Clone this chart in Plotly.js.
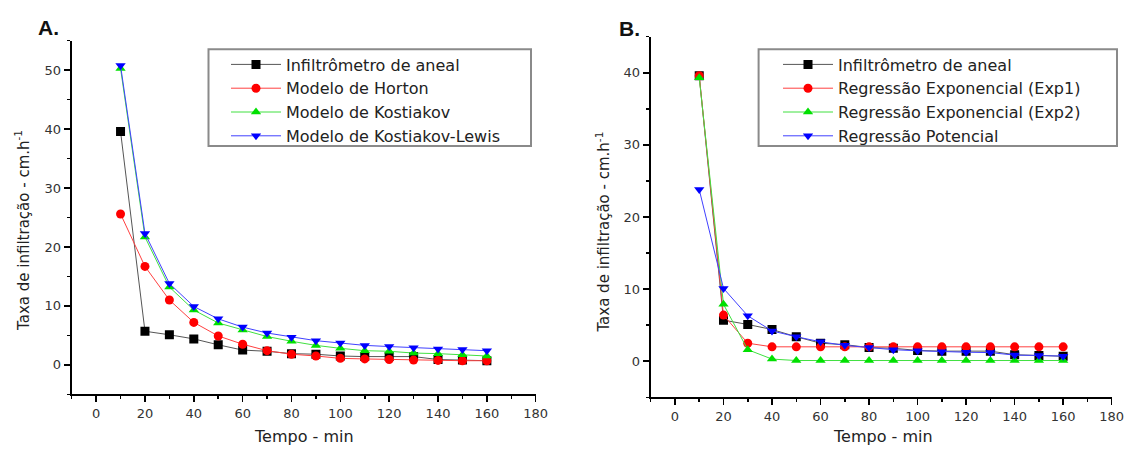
<!DOCTYPE html>
<html>
<head>
<meta charset="utf-8">
<script src="https://cdn.plot.ly/plotly-3.0.1.min.js"></script>
<style>html,body{margin:0;padding:0;background:#fff;}#chart{width:1124px;height:450px;}</style>
</head>
<body>
<div id="chart"></div>
<script>
// ---- data ----
const tempoMin = [10, 20, 30, 40, 50, 60, 70, 80, 90, 100, 110, 120, 130, 140, 150, 160];

// Panel A
const infiltrometro = [39.6, 5.7, 5.1, 4.4, 3.4, 2.5, 2.3, 1.9, 1.8, 1.5, 1.4, 1.4, 1.4, 0.9, 0.8, 0.7];
const horton = [25.6, 16.7, 11.0, 7.2, 4.9, 3.5, 2.4, 1.8, 1.5, 1.1, 1.0, 0.9, 0.8, 0.75, 0.7, 0.7];
const kostiakov = [50.3, 21.7, 13.2, 9.3, 7.1, 5.9, 4.8, 4.0, 3.3, 2.8, 2.4, 2.3, 2.0, 1.9, 1.7, 1.5];
const kostiakovLewis = [50.8, 22.3, 13.8, 9.9, 7.8, 6.4, 5.4, 4.7, 4.1, 3.7, 3.3, 3.1, 2.9, 2.7, 2.6, 2.4];

// Panel B
const exp1 = [39.6, 6.4, 2.5, 2.0, 2.0, 2.0, 2.0, 2.0, 2.0, 2.0, 2.0, 2.0, 2.0, 2.0, 2.0, 2.0];
const exp2 = [39.3, 7.9, 1.6, 0.3, 0.1, 0.1, 0.1, 0.1, 0.1, 0.1, 0.1, 0.1, 0.1, 0.1, 0.1, 0.1];
const potencial = [23.8, 10.1, 6.3, 4.2, 3.4, 2.7, 2.2, 1.9, 1.6, 1.45, 1.3, 1.25, 1.2, 0.85, 0.8, 0.7];

const namesA = ["Infiltrômetro de aneal", "Modelo de Horton", "Modelo de Kostiakov", "Modelo de Kostiakov-Lewis"];
const namesB = ["Infiltrômetro de aneal", "Regressão Exponencial (Exp1)", "Regressão Exponencial (Exp2)", "Regressão Potencial"];
const xTitle = "Tempo - min";
const yTitle = "Taxa de infiltração - cm.h<sup>-1</sup>";
const panelLabels = ["A.", "B."];

// ---- styles ----
const FONT = "DejaVu Sans, Verdana, sans-serif";
const styles = [
  {color: "#000000", line: "#555555", symbol: "square"},
  {color: "#ff0000", line: "#ff4040", symbol: "circle"},
  {color: "#00e000", line: "#40e040", symbol: "triangle-up"},
  {color: "#0000ff", line: "#4040ff", symbol: "triangle-down"}
];

function mk(y, name, st, xa, ya, leg) {
  return {
    x: tempoMin, y: y, name: name, type: "scatter", mode: "lines+markers",
    xaxis: xa, yaxis: ya, legend: leg,
    line: {color: st.line, width: 1},
    marker: {color: st.color, symbol: st.symbol, size: 9}
  };
}

const seriesA = [infiltrometro, horton, kostiakov, kostiakovLewis];
const seriesB = [infiltrometro, exp1, exp2, potencial];
const traces = [];
seriesA.forEach((s, i) => traces.push(mk(s, namesA[i], styles[i], "x", "y", "legend")));
seriesB.forEach((s, i) => traces.push(mk(s, namesB[i], styles[i], "x2", "y2", "legend2")));

const W = 1124, H = 450;
const px = v => v / W, py = v => 1 - v / H;

function xax(dom, anchor) {
  return {
    domain: dom, anchor: anchor, range: [-10, 180], dtick: 20, tick0: 0,
    showline: true, linecolor: "#000", linewidth: 2, showgrid: false, zeroline: false,
    ticks: "outside", ticklen: 6, tickwidth: 1.5, tickcolor: "#000", ticklabeloverflow: "allow",
    minor: {dtick: 10, tick0: 0, ticks: "outside", ticklen: 3, tickwidth: 1.5, tickcolor: "#000"},
    tickfont: {family: FONT, size: 13, color: "#333"}
  };
}
function yax(dom, anchor, range) {
  return {
    domain: dom, anchor: anchor, range: range, dtick: 10, tick0: 0,
    showline: true, linecolor: "#000", linewidth: 2, showgrid: false, zeroline: false,
    ticks: "outside", ticklen: 6, tickwidth: 1.5, tickcolor: "#000",
    minor: {dtick: 5, tick0: 0, ticks: "outside", ticklen: 3, tickwidth: 1.5, tickcolor: "#000"},
    tickfont: {family: FONT, size: 13, color: "#333"}
  };
}

const legFont = {family: FONT, size: 16, color: "#222"};
const layout = {
  width: W, height: H,
  margin: {l: 0, r: 0, t: 0, b: 0},
  paper_bgcolor: "#fff", plot_bgcolor: "#fff",
  xaxis: xax([px(71.7), px(535.7)], "y"),
  yaxis: yax([py(394.3), py(40.7)], "x", [-5, 55]),
  xaxis2: xax([px(650.7), px(1111.7)], "y2"),
  yaxis2: yax([py(397.3), py(36.7)], "x2", [-5, 45]),
  legend: {x: px(226), y: py(47.5), xanchor: "left", yanchor: "top", bgcolor: "rgba(0,0,0,0)",
           borderwidth: 0, font: legFont, itemwidth: 50, tracegroupgap: 0},
  legend2: {x: px(778), y: py(47.5), xanchor: "left", yanchor: "top", bgcolor: "rgba(0,0,0,0)",
            borderwidth: 0, font: legFont, itemwidth: 50, tracegroupgap: 0},
  shapes: [
    {type: "rect", xref: "paper", yref: "paper", x0: px(208.5), x1: px(531), y0: py(146), y1: py(49.3),
     line: {color: "#8a8a8a", width: 2}, fillcolor: "rgba(0,0,0,0)", layer: "below"},
    {type: "rect", xref: "paper", yref: "paper", x0: px(758.6), x1: px(1117), y0: py(146), y1: py(49.3),
     line: {color: "#8a8a8a", width: 2}, fillcolor: "rgba(0,0,0,0)", layer: "below"}
  ],
  annotations: [
    {text: "<b>" + panelLabels[0] + "</b>", xref: "paper", yref: "paper", x: px(36), y: py(27), xanchor: "left", yanchor: "middle",
     showarrow: false, font: {family: "Liberation Sans, Arial, sans-serif", size: 21, color: "#111"}},
    {text: "<b>" + panelLabels[1] + "</b>", xref: "paper", yref: "paper", x: px(617), y: py(28.7), xanchor: "left", yanchor: "middle",
     showarrow: false, font: {family: "Liberation Sans, Arial, sans-serif", size: 21, color: "#111"}},
    {text: xTitle, xref: "paper", yref: "paper", x: px(304), y: py(436.7), xanchor: "center", yanchor: "middle",
     showarrow: false, font: {family: FONT, size: 16, color: "#222"}},
    {text: xTitle, xref: "paper", yref: "paper", x: px(882.7), y: py(436.7), xanchor: "center", yanchor: "middle",
     showarrow: false, font: {family: FONT, size: 16, color: "#222"}},
    {text: yTitle, xref: "paper", yref: "paper", x: px(22.2), y: py(230.7), xanchor: "center", yanchor: "middle", textangle: -90,
     showarrow: false, font: {family: FONT, size: 15, color: "#222"}},
    {text: yTitle, xref: "paper", yref: "paper", x: px(602.9), y: py(231.7), xanchor: "center", yanchor: "middle", textangle: -90,
     showarrow: false, font: {family: FONT, size: 15, color: "#222"}}
  ]
};

Plotly.newPlot("chart", traces, layout, {displayModeBar: false, staticPlot: true});
</script>
</body>
</html>
